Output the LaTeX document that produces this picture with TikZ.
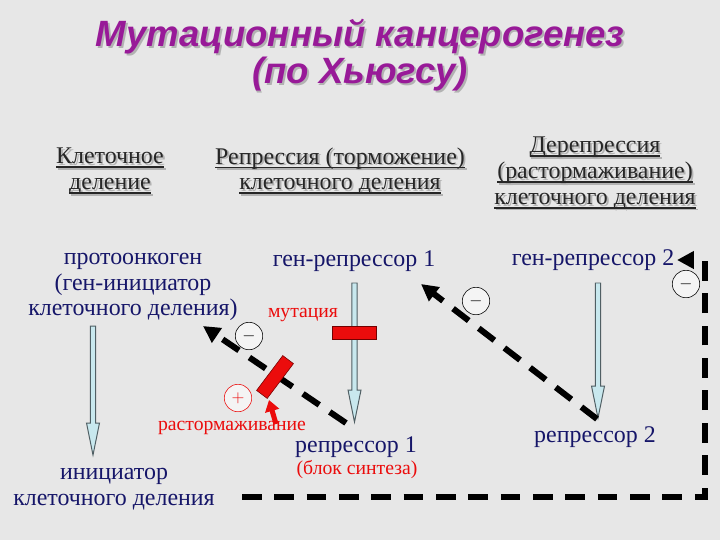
\documentclass[tikz,border=0pt]{standalone}
\usepackage{fontspec}
\setmainfont{Liberation Serif}
\newfontfamily\titlefont{Liberation Sans}
\usepackage{xcolor}
\usetikzlibrary{arrows.meta, calc, positioning}

\definecolor{paper}{RGB}{231,231,231}
\definecolor{titlepurple}{RGB}{152,26,152}
\definecolor{navytext}{RGB}{22,22,105}
\definecolor{blockred}{RGB}{235,12,12}
\definecolor{arrowfill}{RGB}{200,232,238}
\definecolor{arrowline}{RGB}{80,95,100}

% underlined heading line
\newcommand\hdline[1]{\setbox0=\hbox{#1}\rlap{\rule[-3pt]{\wd0}{1.2pt}}\box0}
% text with a grey shadow: position, name, style, text
\newcommand\shadowtext[4]{%
  \node[#3, text=gray!60, xshift=1.3pt, yshift=-1.3pt] at (#1) {#4};
  \node[#3] (#2) at (#1) {#4};}
% light blue block arrow from top to tip
\newcommand\bluearrow[2]{%
  \draw[blockarr] ($(#1)+(-2.6,0)$) -- ($(#2)+(-2.6,-32)$) -- ($(#2)+(-6.5,-32)$) -- (#2)
    -- ($(#2)+(6.5,-32)$) -- ($(#2)+(2.6,-32)$) -- ($(#1)+(2.6,0)$) -- cycle;}

\begin{document}
\begin{tikzpicture}[x=0.025cm, y=-0.025cm,
    >={Triangle[length=12pt,width=12pt]},
    titletext/.style={align=center, text=titlepurple,
      font=\titlefont\bfseries\itshape\fontsize{26}{26.2}\selectfont},
    head/.style={align=center, text=black!85, font=\fontsize{17}{18.4}\selectfont},
    gene/.style={align=center, text=navytext, font=\fontsize{17}{18.4}\selectfont},
    redlabel/.style={text=blockred, font=\fontsize{14}{15}\selectfont},
    sign/.style={circle, draw, thin, fill=white!55!paper, minimum size=19.5pt,
      inner sep=0pt, font=\fontsize{12}{12}\selectfont},
    redbar/.style={draw=red!45!black, fill=blockred, minimum width=31pt,
      minimum height=9.5pt, inner sep=0pt},
    dashline/.style={->, line width=4.3pt, dash pattern=on 14pt off 9pt},
    blockarr/.style={draw=arrowline, fill=arrowfill, line width=0.7pt}]

  \fill[paper] (0,0) rectangle (720,540);
  \useasboundingbox (0,0) rectangle (720,540);

  % title
  \shadowtext{360,55}{title}{titletext}{Мутационный канцерогенез\\(по Хьюгсу)}

  % headings
  \shadowtext{110,171}{cell}{head}{\hdline{Клеточное}\\\hdline{деление}}
  \shadowtext{340,171}{repr}{head}{\hdline{Репрессия (торможение)}\\\hdline{клеточного деления}}
  \shadowtext{595,173}{derepr}{head}{\hdline{Дерепрессия}\\\hdline{(растормаживание)}\\\hdline{клеточного деления}}

  % genes and products
  \node[gene] (proto) at (133,287) {протоонкоген\\(ген-инициатор\\клеточного деления)};
  \node[gene] (gr1) at (354,261) {ген-репрессор 1};
  \node[gene] (gr2) at (593,260) {ген-репрессор 2};
  \node[gene] (init) at (114,489) {инициатор\\клеточного деления};
  \node[gene] (rep1) at (356,447) {репрессор 1};
  \node[gene] (rep2) at (595,437) {репрессор 2};
  \node[redlabel] (block) at (357,470) {(блок синтеза)};
  \node[redlabel] (mut) at (303,315) {мутация};
  \node[redlabel] (rast) at (232,428) {растормаживание};

  % synthesis arrows
  \coordinate (a1top) at (93,326);   \coordinate (a1tip) at (93,455);
  \coordinate (a2top) at (354.5,283); \coordinate (a2tip) at (354.5,422);
  \coordinate (a3top) at (598,283);  \coordinate (a3tip) at (598,418);
  \bluearrow{a1top}{a1tip}
  \bluearrow{a2top}{a2tip}
  \bluearrow{a3top}{a3tip}

  % inhibition paths
  \coordinate (d1s) at (346,423); \coordinate (d1e) at (203,326);
  \coordinate (d2s) at (597,419); \coordinate (d2e) at (421,284);
  \coordinate (d3s) at (242,497); \coordinate (d3c) at (705,260);
  \coordinate (d3e) at (677,260);
  \draw[dashline] (d1s) -- (d1e);
  \draw[dashline] (d2s) -- (d2e);
  \draw[dashline] (d3s) -| (d3c) -- (d3e);

  % mutation blocks
  \node[redbar] (bar1) at (354.5,333) {};
  \node[redbar, rotate=53] (bar2) at (275,377) {};
  \draw[->, >={Triangle[length=8pt,width=10pt]}, line width=3.6pt, blockred]
    (276,424) -- (269,400);

  % signs
  \node[sign] (m1) at (249,336) {$-$};
  \node[sign] (m2) at (476,301) {$-$};
  \node[sign] (m3) at (686,284) {$-$};
  \node[sign, draw=blockred, text=blockred] (p1) at (238,398) {$+$};
\end{tikzpicture}
\end{document}
